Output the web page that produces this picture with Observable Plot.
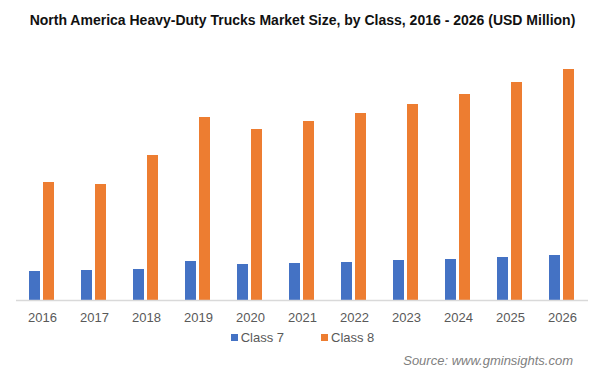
<!DOCTYPE html>
<html>
<head>
<meta charset="utf-8">
<script src="https://cdn.jsdelivr.net/npm/d3@7"></script>
<script src="https://cdn.jsdelivr.net/npm/@observablehq/plot@0.6"></script>
<style>
  html, body { margin: 0; padding: 0; background: #fff; }
  #wrap { position: relative; width: 605px; height: 376px; font-family: Arial, "Liberation Sans", sans-serif; overflow: hidden; }
  #title { position: absolute; left: 0; top: 12px; width: 605px; text-align: center; font-weight: bold; font-size: 14px; color: #111; white-space: nowrap; }
  #chart { position: absolute; left: 0; top: 40px; }
  #legend { position: absolute; left: 0; top: 330px; width: 605px; display: flex; justify-content: center; gap: 37px; font-size: 13px; color: #595959; }
  #legend .item { display: flex; align-items: center; }
  #legend .sw { width: 7px; height: 7px; margin-right: 3px; }
  #source { position: absolute; right: 32px; top: 353px; font-size: 13px; font-style: italic; color: #808080; }
</style>
</head>
<body>
<div id="wrap">
  <div id="title">North America Heavy-Duty Trucks Market Size, by Class, 2016 - 2026 (USD Million)</div>
  <div id="chart"></div>
  <div id="legend"></div>
  <div id="source">Source: www.gminsights.com</div>
</div>
<script>
const years = ["2016","2017","2018","2019","2020","2021","2022","2023","2024","2025","2026"];
const seriesNames = ["Class 7", "Class 8"];
const class7 = [29, 30, 31, 39, 36, 37, 38, 40, 41, 43, 45];
const class8 = [118, 116, 145, 183, 171, 179, 187, 196, 206, 218, 231];
const colors = ["#4472C4", "#ED7D31"];

const rows = [];
years.forEach((y, i) => {
  rows.push({year: y, cls: seriesNames[0], value: class7[i]});
  rows.push({year: y, cls: seriesNames[1], value: class8[i]});
});

const plot = Plot.plot({
  width: 605,
  height: 290,
  marginLeft: 14,
  marginRight: 15,
  marginTop: 20,
  marginBottom: 30,
  style: {fontFamily: "Arial, 'Liberation Sans', sans-serif", fontSize: "13px", color: "#595959", background: "#fff"},
  fx: {domain: years, padding: 0, axis: "bottom", label: null, tickSize: 0, tickPadding: 12},
  x: {domain: seriesNames, paddingInner: 0.2, paddingOuter: 0.85, axis: null},
  y: {domain: [0, 240], axis: null},
  color: {domain: seriesNames, range: colors},
  marks: [
    Plot.barY(rows, {fx: "year", x: "cls", y: "value", fill: "cls"}),
    Plot.ruleY([0], {stroke: "#d9d9d9", strokeWidth: 1.5})
  ]
});
document.getElementById("chart").appendChild(plot);

const legend = document.getElementById("legend");
seriesNames.forEach((n, i) => {
  const item = document.createElement("div");
  item.className = "item";
  const sw = document.createElement("span");
  sw.className = "sw";
  sw.style.background = colors[i];
  const t = document.createElement("span");
  t.textContent = n;
  item.appendChild(sw); item.appendChild(t);
  legend.appendChild(item);
});
</script>
</body>
</html>
